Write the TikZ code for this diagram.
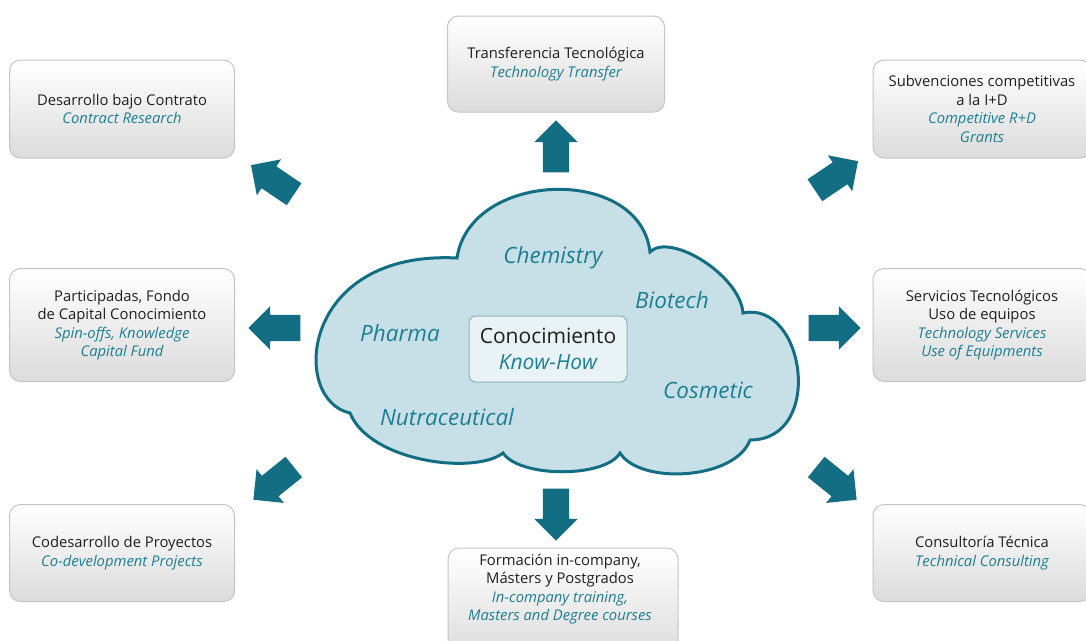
\documentclass[tikz,border=0pt]{standalone}
\usepackage{fontspec}
\setmainfont{Open Sans}
\usepackage{tikz}
\usetikzlibrary{shapes.arrows}
\definecolor{tealdark}{HTML}{136D83}
\definecolor{cloudfill}{HTML}{C7E0E7}
\definecolor{engtext}{HTML}{1D7E92}
\definecolor{coreedge}{HTML}{8FB2BC}
\newcommand{\eng}[1]{{\color{engtext}\itshape #1}}
\tikzstyle{infobox} = [rounded corners=11pt, top color=white, bottom color=black!14, draw=black!23, line width=1pt, align=center, text=black!88, inner sep=0pt, font=\fontsize{14.8}{18.5}\selectfont]
\tikzstyle{bigarrow} = [single arrow, fill=tealdark, minimum height=52pt, single arrow head extend=8.5pt, inner xsep=0pt, inner ysep=13pt]
\tikzstyle{field} = [text=engtext, font=\fontsize{22.5}{26}\selectfont\itshape]

\begin{document}
\begin{tikzpicture}[x=1pt,y=1pt]
	\useasboundingbox[fill=white] (0,0) rectangle (1086,-640);
	\clip (0,0) rectangle (1086,-640);
	% cloud
	\draw[fill=cloudfill, draw=tealdark, line width=3pt] (457,-258)
		.. controls (470,-170) and (640,-165) .. (650,-252)
		.. controls (670,-232) and (740,-275) .. (743,-313)
		.. controls (805,-300) and (825,-440) .. (750,-440)
		.. controls (735,-480) and (640,-485) .. (620,-453)
		.. controls (605,-478) and (520,-478) .. (503,-453)
		.. controls (475,-475) and (370,-462) .. (350,-413)
		.. controls (290,-400) and (300,-250) .. (457,-258) -- cycle;
	\node[draw=coreedge, line width=1pt, fill=white!60!cloudfill, rounded corners=7pt, minimum width=158pt, minimum height=66pt, align=center, font=\fontsize{21}{26}\selectfont, text=black!88] (core) at (548,-349) {Conocimiento\\\eng{Know-How}};
	\node[field] (chem) at (553,-258) {Chemistry};
	\node[field] (bio) at (672,-300) {Biotech};
	\node[field] (pharma) at (400,-333) {Pharma};
	\node[field] (cosm) at (708,-390) {Cosmetic};
	\node[field] (nutra) at (447,-417) {Nutraceutical};
	% boxes
	\node[infobox, minimum width=217pt, minimum height=96pt] (transfer) at (556,-64) {Transferencia Tecnológica\\\eng{Technology Transfer}};
	\node[infobox, minimum width=225pt, minimum height=98pt] (contract) at (122,-109) {Desarrollo bajo Contrato\\\eng{Contract Research}};
	\node[infobox, minimum width=218pt, minimum height=98pt] (grants) at (982,-109) {Subvenciones competitivas\\a la I+D\\\eng{Competitive R+D}\\\eng{Grants}};
	\node[infobox, minimum width=225pt, minimum height=113pt] (spinoff) at (122,-325) {Participadas, Fondo\\de Capital Conocimiento\\\eng{Spin-offs, Knowledge}\\\eng{Capital Fund}};
	\node[infobox, minimum width=218pt, minimum height=113pt] (services) at (982,-325) {Servicios Tecnológicos\\Uso de equipos\\\eng{Technology Services}\\\eng{Use of Equipments}};
	\node[infobox, minimum width=225pt, minimum height=97pt] (codev) at (122,-553) {Codesarrollo de Proyectos\\\eng{Co-development Projects}};
	\node[infobox, minimum width=218pt, minimum height=97pt] (consult) at (982,-553) {Consultoría Técnica\\\eng{Technical Consulting}};
	\node[infobox, minimum width=230pt, minimum height=110pt] (training) at (563,-603) {};
	\node[align=center, font=\fontsize{14.8}{18.5}\selectfont, text=black!88] (traintext) at (560,-589) {Formación in-company,\\Másters y Postgrados\\\eng{In-company training,}\\\eng{Masters and Degree courses}};
	% arrows
	\node[bigarrow, rotate=90] (aN) at (556,-153) {};
	\node[bigarrow, rotate=-90] (aS) at (556,-508) {};
	\node[bigarrow, rotate=180] (aW) at (281,-328) {};
	\node[bigarrow] (aE) at (828,-328) {};
	\node[bigarrow, rotate=146] (aNW) at (278,-183.4) {};
	\node[bigarrow, rotate=34] (aNE) at (831,-179.4) {};
	\node[bigarrow, rotate=219] (aSW) at (278.7,-479.2) {};
	\node[bigarrow, rotate=-39] (aSE) at (831.3,-479.2) {};
\end{tikzpicture}
\end{document}
